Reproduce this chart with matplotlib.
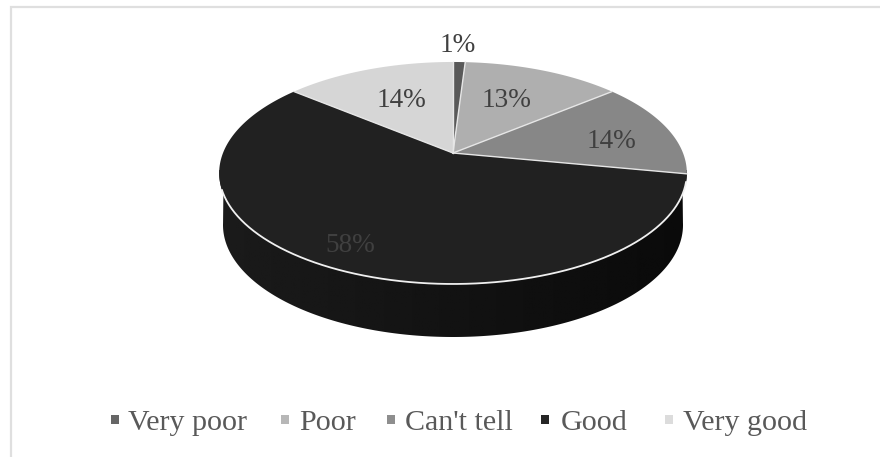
import numpy as np
import matplotlib
matplotlib.use("Agg")
import matplotlib.pyplot as plt
from matplotlib.patches import Polygon, Rectangle

categories = ["Very poor", "Poor", "Can't tell", "Good", "Very good"]
shares = [1, 13, 14, 58, 14]
slice_colors = ["#595959", "#afafaf", "#878787", "#212121", "#d6d6d6"]
legend_colors = ["#666666", "#b7b7b7", "#8e8e8e", "#262626", "#dcdcdc"]

plt.rcParams["font.family"] = ["Liberation Serif", "DejaVu Serif"]

W, H = 880, 457
fig = plt.figure(figsize=(W / 100, H / 100), dpi=100)
ax = fig.add_axes([0, 0, 1, 1])
ax.set_xlim(0, W)
ax.set_ylim(H, 0)
ax.axis("off")

# chart frame, only the top and left edges are visible
ax.plot([11, 11, 880], [457, 6.5, 6.5], color="#dfdfdf", lw=1.6, solid_joinstyle="miter")

# perspective projection of the flat pie
CX, CY = 453, 153
K, A, B = 0.18, 107.4, 230


def project(theta):
    u, v = np.sin(theta), np.cos(theta)
    w = 1 + K * v
    return CX + B * u / w, CY - A * v / w


# side wall, clipped to the band between the two lower rims
t = np.linspace(np.pi / 2 - 0.02, 3 * np.pi / 2 + 0.02, 300)
top_x, top_y = project(t)
low_x = 453 + 230 * np.sin(t)
low_y = 225 + 112 * -np.cos(t)
wall = Polygon(np.r_[np.c_[top_x, top_y], np.c_[low_x, low_y][::-1]], closed=True,
               fc="none", ec="none", transform=ax.transData)
ax.add_patch(wall)
grad = np.linspace(0.105, 0.04, 256).reshape(1, -1)
img = ax.imshow(grad, extent=(219, 687, 340, 170), cmap="gray", vmin=0, vmax=1,
                aspect="auto", zorder=1)
img.set_clip_path(wall)
ax.set_xlim(0, W)
ax.set_ylim(H, 0)

# top face
edges = np.r_[0, np.cumsum(shares)] / sum(shares) * 2 * np.pi
for a0, a1, c in zip(edges[:-1], edges[1:], slice_colors):
    th = np.linspace(a0, a1, 200)
    x, y = project(th)
    pts = np.r_[[[CX, CY]], np.c_[x, y]]
    ax.add_patch(Polygon(pts, closed=True, fc=c, ec="none", zorder=2))

# separators between slices
for a in edges[:-1]:
    x, y = project(np.array([a]))
    ax.plot([CX, x[0]], [CY, y[0]], color="#e6e6e6", lw=1.0, zorder=2.5)

# bright rim along the front of the top face
th = np.linspace(np.radians(105), np.radians(251), 300)
x, y = project(th)
ax.plot(x, y, color="#f0f0f0", lw=1.3, zorder=2.5)

# percentage labels
label_xy = [(458, 52), (506, 107), (611, 148), (350.5, 252), (401, 107)]
for s, (x, y) in zip(shares, label_xy):
    ax.text(x, y, f"{s}%", ha="center", va="baseline", fontsize=19.6, color="#404040", zorder=3)

# legend
marker_x = [115, 284.5, 391, 545, 668.5]
text_x = [128, 299, 405, 561, 683]
for name, c, mx, tx in zip(categories, legend_colors, marker_x, text_x):
    ax.add_patch(Rectangle((mx - 4, 415), 8, 9, fc=c, ec="none", zorder=3))
    ax.text(tx, 430, name, ha="left", va="baseline", fontsize=21.6, color="#595959", zorder=3)

fig.savefig("out.png", dpi=100)
